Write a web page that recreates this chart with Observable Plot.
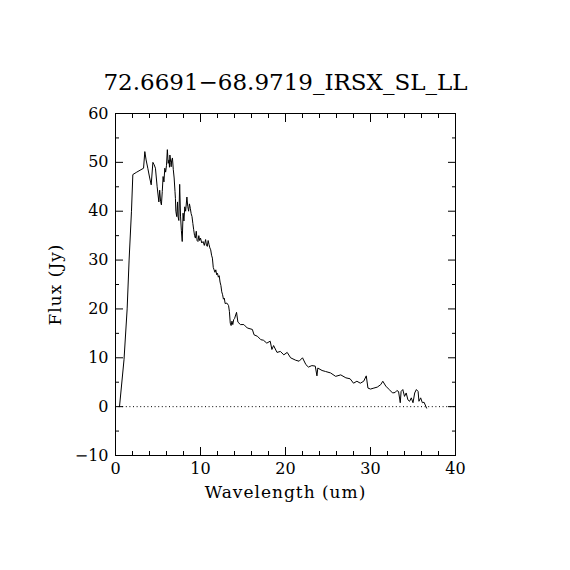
<!DOCTYPE html>
<html>
<head>
<meta charset="utf-8">
<script src="https://cdn.jsdelivr.net/npm/d3@7"></script>
<script src="https://cdn.jsdelivr.net/npm/@observablehq/plot@0.6"></script>
<style>
  html, body { margin: 0; padding: 0; background: #fff; }
  .axis-title { letter-spacing: 1px; }
</style>
</head>
<body>
<div id="chart"></div>
<script>
const title = "72.6691\u221268.9719_IRSX_SL_LL";
const xLabel = "Wavelength (um)";
const yLabel = "Flux (Jy)";

const xMajorTicks = [0, 10, 20, 30, 40];
const xMinorTicks = [2, 4, 6, 8, 12, 14, 16, 18, 22, 24, 26, 28, 32, 34, 36, 38];
const yMajorTicks = [-10, 0, 10, 20, 30, 40, 50, 60];
const yMinorTicks = [-5, 5, 15, 25, 35, 45, 55];

const wavelength = [
  0.47, 1.0, 1.37, 1.6, 1.88, 2.04, 2.5, 3.0, 3.3, 3.45, 3.6, 3.8, 4.0, 4.2, 4.4, 4.55, 4.7, 4.9, 5.1, 5.2,
  5.3, 5.4, 5.5, 5.6, 5.7, 5.8, 5.9, 6.0, 6.1, 6.2, 6.3, 6.35, 6.4, 6.5, 6.55, 6.6, 6.7, 6.8, 6.9, 7.0,
  7.05, 7.1, 7.2, 7.3, 7.35, 7.45, 7.55, 7.65, 7.75, 7.85, 7.95, 8.05, 8.15, 8.25, 8.4, 8.5, 8.6, 8.7, 8.8, 8.9,
  9.0, 9.1, 9.2, 9.3, 9.4, 9.5, 9.6, 9.7, 9.8, 9.9, 10.0, 10.15, 10.3, 10.45, 10.6, 10.7, 10.8, 10.9, 11.0, 11.1,
  11.2, 11.3, 11.4, 11.5, 11.6, 11.7, 11.8, 11.9, 12.0, 12.1, 12.2, 12.3, 12.4, 12.5, 12.6, 12.7, 12.8, 12.9, 13.1, 13.3,
  13.4, 13.5, 13.6, 13.7, 13.8, 13.9, 14.0, 14.24, 14.4, 14.7, 15.1, 15.5, 16.1, 16.3, 16.7, 17.1, 17.4, 17.8, 18.2, 18.4,
  18.6, 19.0, 19.4, 19.8, 20.2, 20.6, 21.2, 21.6, 22.0, 22.4, 22.7, 23.1, 23.5, 23.7, 23.8, 24.3, 24.7, 25.3, 25.9, 26.5,
  27.1, 27.6, 28.0, 28.4, 28.8, 29.2, 29.5, 29.7, 30.0, 30.4, 30.8, 31.2, 31.45, 31.8, 32.2, 32.6, 32.9, 33.1, 33.3, 33.5,
  33.6, 33.8, 34.0, 34.2, 34.4, 34.6, 34.8, 35.0, 35.2, 35.4, 35.6, 35.7, 35.9, 36.1, 36.3, 36.5, 36.6
];
const flux = [
  0.0, 9.6, 20.0, 30.0, 40.0, 47.5, 48.0, 48.5, 48.8, 52.2, 50.5, 48.8, 47.0, 45.4, 50.0, 49.5, 48.8, 45.0, 41.9, 44.3,
  42.0, 41.3, 44.0, 47.1, 46.0, 48.8, 48.0, 49.4, 52.6, 49.8, 50.5, 49.0, 51.5, 50.0, 49.1, 50.3, 50.9, 48.5, 46.8, 44.0,
  42.6, 40.0, 38.9, 41.9, 39.0, 38.1, 45.5, 39.0, 36.0, 33.8, 39.6, 38.0, 40.9, 40.0, 42.9, 41.0, 40.0, 41.5, 40.6, 39.5,
  38.9, 37.5, 36.2, 35.0, 34.5, 35.9, 34.0, 33.8, 35.0, 34.0, 34.5, 33.5, 33.8, 33.0, 34.2, 33.0, 32.8, 34.0, 33.2, 32.5,
  32.1, 31.0, 30.4, 28.5, 28.0, 27.5, 28.0, 27.0, 27.3, 26.5, 26.8, 25.5, 24.8, 23.5, 22.9, 22.0, 22.2, 21.1, 21.2, 20.7,
  19.5, 17.1, 16.6, 17.5, 16.8, 17.8, 18.0, 19.3, 17.3, 16.8, 16.8, 16.1, 15.8, 14.7, 14.4, 13.7, 13.6, 13.0, 13.4, 11.7,
  12.5, 11.1, 11.3, 10.6, 11.1, 10.0, 9.5, 9.3, 10.0, 8.6, 8.1, 8.4, 8.3, 6.3, 7.9, 7.4, 7.2, 6.9, 6.2, 6.5,
  5.9, 5.7, 4.8, 5.2, 4.8, 5.2, 6.3, 3.8, 3.6, 3.8, 4.0, 4.5, 5.2, 4.2, 3.5, 2.8, 2.9, 3.3, 3.1, 0.8,
  3.1, 3.5, 2.1, 2.8, 1.4, 1.1, 1.8, 0.8, 2.8, 3.5, 3.1, 1.1, 1.8, 0.8, 0.9, 0.1, -0.3
];

const spectrum = wavelength.map((w, i) => ({w, f: flux[i]}));

const font = "DejaVu Serif";
const blank = () => "";

const chart = Plot.plot({
  width: 570,
  height: 570,
  marginLeft: 115,
  marginRight: 115,
  marginTop: 113,
  marginBottom: 115,
  style: {fontFamily: font, fontSize: "16px", color: "black", background: "white"},
  x: {domain: [0, 40]},
  y: {domain: [-10, 60]},
  marks: [
    Plot.frame({stroke: "black"}),
    Plot.ruleY([0], {stroke: "black", strokeDasharray: "1,2.6"}),
    Plot.line(spectrum, {x: "w", y: "f", stroke: "black", strokeWidth: 1}),
    // major / minor tick marks, inward on all four sides
    Plot.axisX(xMajorTicks, {anchor: "bottom", tickSize: -8, tickFormat: blank, label: null}),
    Plot.axisX(xMinorTicks, {anchor: "bottom", tickSize: -4, tickFormat: blank, label: null}),
    Plot.axisX(xMajorTicks, {anchor: "top", tickSize: -8, tickFormat: blank, label: null}),
    Plot.axisX(xMinorTicks, {anchor: "top", tickSize: -4, tickFormat: blank, label: null}),
    Plot.axisY(yMajorTicks, {anchor: "left", tickSize: -8, tickFormat: blank, label: null}),
    Plot.axisY(yMinorTicks, {anchor: "left", tickSize: -4, tickFormat: blank, label: null}),
    Plot.axisY(yMajorTicks, {anchor: "right", tickSize: -8, tickFormat: blank, label: null}),
    Plot.axisY(yMinorTicks, {anchor: "right", tickSize: -4, tickFormat: blank, label: null}),
    // tick labels
    Plot.axisX(xMajorTicks, {anchor: "bottom", tickSize: 0, tickPadding: 7, label: null, fontSize: 16,
      tickFormat: d => String(d)}),
    Plot.axisY(yMajorTicks, {anchor: "left", tickSize: 0, tickPadding: 7, label: null, fontSize: 16,
      tickFormat: d => (d < 0 ? "\u2212" + Math.abs(d) : String(d))}),
    // axis titles and chart title
    Plot.text([xLabel], {frameAnchor: "bottom", dy: 37, textAnchor: "middle", lineAnchor: "middle",
      fontSize: 17, fill: "black", className: "axis-title"}),
    Plot.text([yLabel], {frameAnchor: "left", dx: -60, rotate: -90, textAnchor: "middle", lineAnchor: "middle",
      fontSize: 17, fill: "black", className: "axis-title"}),
    Plot.text([title], {frameAnchor: "top", dy: -31, textAnchor: "middle", lineAnchor: "middle", fontSize: 23, fill: "black"})
  ]
});

document.getElementById("chart").appendChild(chart);
</script>
</body>
</html>
